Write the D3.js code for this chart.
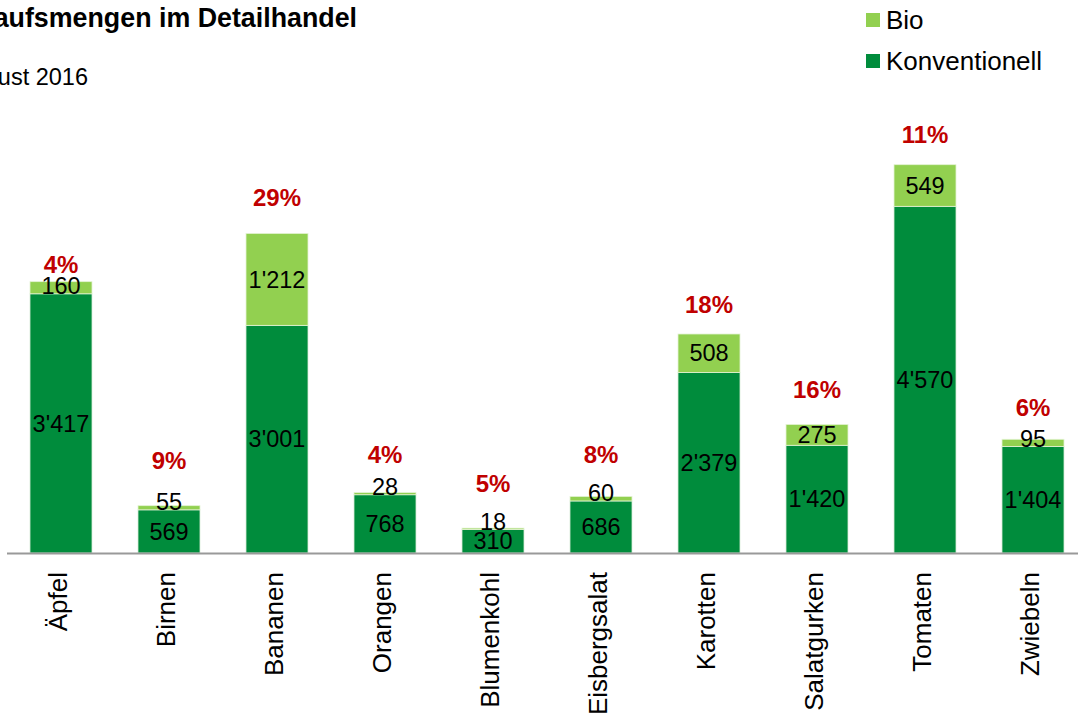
<!DOCTYPE html>
<html lang="de">
	<head>
		<meta charset="utf-8">
		<script type="text/javascript" src="https://d3js.org/d3.v7.min.js"></script>
		<style type="text/css">
			body { margin: 0; background: #fff; }
			text { font-family: "Liberation Sans", Arial, sans-serif; }
		</style>
	</head>
	<body>
		<script type="text/javascript">

			// Data.
			var categories = ["Äpfel", "Birnen", "Bananen", "Orangen", "Blumenkohl", "Eisbergsalat", "Karotten", "Salatgurken", "Tomaten", "Zwiebeln"];
			var konventionell = [3417, 569, 3001, 768, 310, 686, 2379, 1420, 4570, 1404];
			var bio = [160, 55, 1212, 28, 18, 60, 508, 275, 549, 95];
			var bioShare = ["4%", "9%", "29%", "4%", "5%", "8%", "18%", "16%", "11%", "6%"];

			// Hand placed lift of the percent labels above the bars (px), as in the original.
			var pctLift = [17, 45, 36, 38, 45, 42, 29, 35, 30, 32];

			var w = 1078;
			var h = 713;

			var colBio = "#92d050";
			var colKonv = "#008c3c";

			var svg = d3.select("body")
						.append("svg")
						.attr("width", w)
						.attr("height", h);

			// Scales
			var x = d3.scaleBand()
				.domain(categories)
				.range([7, 1087])
				.paddingInner(0.426)
				.paddingOuter(0.213);

			var y = d3.scaleLinear()
				.domain([0, 7000])
				.range([553, 22]);

			// Title (cut off at the left edge like the original)
			svg.append("text")
				.attr("x", 357)
				.attr("y", 27)
				.attr("text-anchor", "end")
				.attr("font-weight", "bold")
				.attr("font-size", 26.8)
				.text("Einkaufsmengen im Detailhandel");

			svg.append("text")
				.attr("x", 88)
				.attr("y", 85)
				.attr("text-anchor", "end")
				.attr("font-size", 23.5)
				.text("Januar bis August 2016");

			// Stacked rows
			var rows = categories.map(function(c, i) {
				return { cat: c, konv: konventionell[i], bio: bio[i], pct: bioShare[i], lift: pctLift[i] };
			});

			var bars = svg.append("g");

			bars.selectAll("rect.konv")
				.data(rows)
				.enter().append("rect")
				.attr("class", "konv")
				.attr("x", function(d) { return x(d.cat); })
				.attr("y", function(d) { return y(d.konv); })
				.attr("width", x.bandwidth())
				.attr("height", function(d) { return y(0) - y(d.konv); })
				.attr("fill", colKonv)
				.attr("stroke", "#d8ecd8")
				.attr("stroke-width", 0.8);

			bars.selectAll("rect.bio")
				.data(rows)
				.enter().append("rect")
				.attr("class", "bio")
				.attr("x", function(d) { return x(d.cat); })
				.attr("y", function(d) { return y(d.konv + d.bio); })
				.attr("width", x.bandwidth())
				.attr("height", function(d) { return y(d.konv) - y(d.konv + d.bio); })
				.attr("fill", colBio)
				.attr("stroke", "#e4f3d4")
				.attr("stroke-width", 0.8);

			// Axis line
			svg.append("line")
				.attr("x1", 7)
				.attr("x2", w)
				.attr("y1", y(0) + 0.5)
				.attr("y2", y(0) + 0.5)
				.attr("stroke", "#999")
				.attr("stroke-width", 2);

			function fmt(v) {
				return d3.format(",")(v).replace(/,/g, "'");
			}

			// Value labels
			var labels = svg.append("g")
				.attr("font-size", 23.5)
				.attr("fill", "#000")
				.attr("text-anchor", "middle");

			labels.selectAll("text.konv")
				.data(rows)
				.enter().append("text")
				.attr("class", "konv")
				.attr("x", function(d) { return x(d.cat) + x.bandwidth() / 2; })
				.attr("y", function(d) { return (y(0) + y(d.konv)) / 2; })
				.attr("dy", "0.35em")
				.text(function(d) { return fmt(d.konv); });

			labels.selectAll("text.bio")
				.data(rows)
				.enter().append("text")
				.attr("class", "bio")
				.attr("x", function(d) { return x(d.cat) + x.bandwidth() / 2; })
				.attr("y", function(d) {
					var mid = (y(d.konv) + y(d.konv + d.bio)) / 2;
					// small segments: keep the label sitting on the dark bar
					return Math.min(mid, y(d.konv) - 8);
				})
				.attr("dy", "0.35em")
				.text(function(d) { return fmt(d.bio); });

			// Bio share in percent
			svg.append("g")
				.selectAll("text")
				.data(rows)
				.enter().append("text")
				.attr("x", function(d) { return x(d.cat) + x.bandwidth() / 2; })
				.attr("y", function(d) { return y(d.konv + d.bio) - d.lift; })
				.attr("dy", "0.35em")
				.attr("text-anchor", "middle")
				.attr("font-size", 24)
				.attr("font-weight", "bold")
				.attr("fill", "#c00000")
				.text(function(d) { return d.pct; });

			// Category labels, rotated
			svg.append("g")
				.selectAll("text")
				.data(categories)
				.enter().append("text")
				.attr("transform", function(d) {
					return "translate(" + (x(d) + x.bandwidth() / 2 - 3) + ",572) rotate(-90)";
				})
				.attr("dy", "0.35em")
				.attr("text-anchor", "end")
				.attr("font-size", 26)
				.text(function(d) { return d; });

			// Legend
			var legend = svg.append("g")
				.selectAll("g")
				.data([["Bio", colBio], ["Konventionell", colKonv]])
				.enter().append("g")
				.attr("transform", function(d, i) { return "translate(866," + (13 + i * 41) + ")"; });

			legend.append("rect")
				.attr("width", 14)
				.attr("height", 14)
				.attr("fill", function(d) { return d[1]; });

			legend.append("text")
				.attr("x", 20)
				.attr("y", 7)
				.attr("dy", "0.36em")
				.attr("font-size", 26)
				.text(function(d) { return d[0]; });

		</script>
	</body>
</html>
